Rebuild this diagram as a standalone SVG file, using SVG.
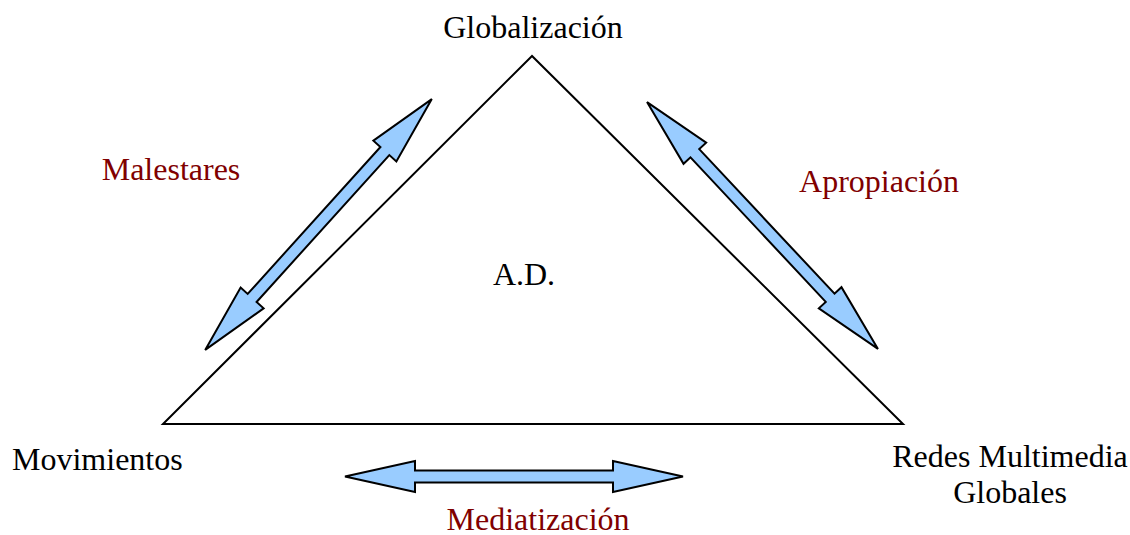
<svg xmlns="http://www.w3.org/2000/svg" width="1130" height="535" viewBox="0 0 1130 535">
<style>
text{font-family:"Liberation Serif","Times New Roman",serif;font-size:32px;fill:#000}
.lbl{fill:#800000}
.arrow{fill:#99ccff;stroke:#000;stroke-width:2;stroke-linejoin:miter}
</style>
<defs>
<path id="dbl" d="M-169,0 L-99,-15.5 L-99,-6 L99,-6 L99,-15.5 L169,0 L99,15.5 L99,6 L-99,6 L-99,15.5 Z"/>
</defs>
<rect width="1130" height="535" fill="#fff"/>
<g id="triangle">
<polygon points="532,56 163,424 903,424" fill="none" stroke="#000" stroke-width="2"/>
</g>
<g id="connectors">
<use href="#dbl" class="arrow" transform="translate(318.5,224.5) rotate(-47.9)"/>
<use href="#dbl" class="arrow" transform="translate(762.5,225.5) rotate(46.9)"/>
<use href="#dbl" class="arrow" transform="translate(514,476.5)"/>
</g>
<g id="globalizacion"><text x="533" y="38" text-anchor="middle">Globalización</text></g>
<g id="movimientos"><text x="12" y="470">Movimientos</text></g>
<g id="redes"><text x="1010" y="467" text-anchor="middle">Redes Multimedia</text><text x="1010" y="503" text-anchor="middle">Globales</text></g>
<g id="ad"><text x="524" y="285" text-anchor="middle">A.D.</text></g>
<g id="malestares"><text class="lbl" x="171" y="180" text-anchor="middle">Malestares</text></g>
<g id="apropiacion"><text class="lbl" x="879" y="192" text-anchor="middle">Apropiación</text></g>
<g id="mediatizacion"><text class="lbl" x="538" y="530" text-anchor="middle">Mediatización</text></g>
</svg>
